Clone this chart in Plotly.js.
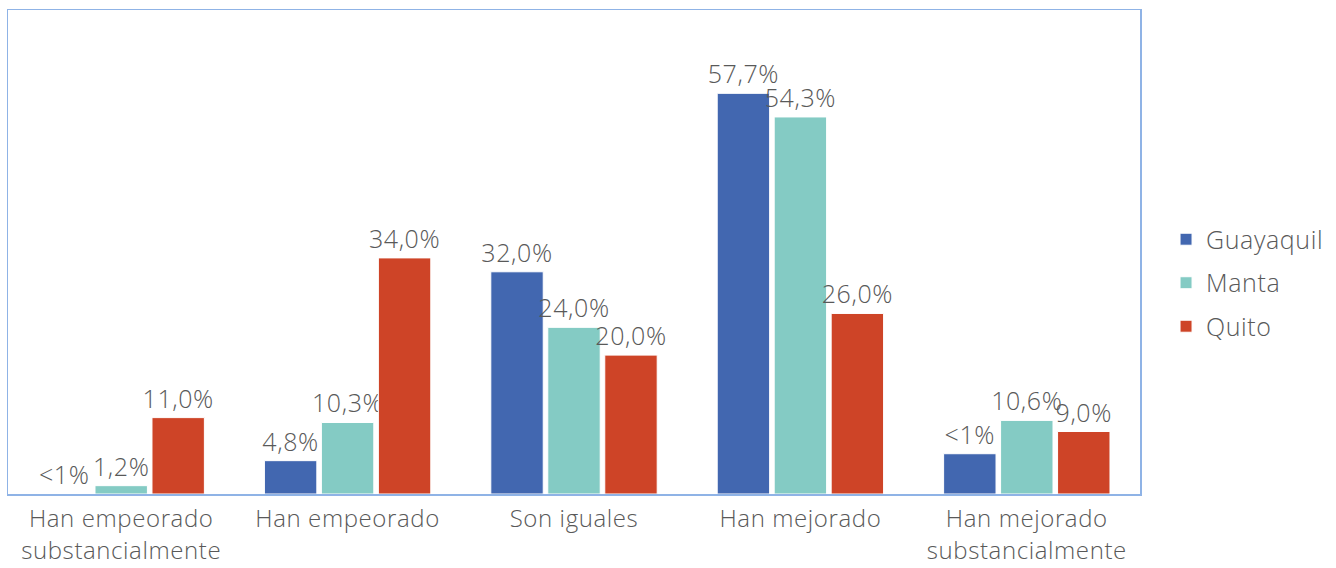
<!DOCTYPE html>
<html>
<head>
<meta charset="utf-8">
<script src="https://cdn.plot.ly/plotly-3.0.1.min.js"></script>
<style>html,body{margin:0;padding:0;background:#fff;}#chart{width:1336px;height:568px;}
#chart svg text{letter-spacing:0.6px;}</style>
</head>
<body>
<div id="chart"></div>
<script>
const categories = ["Han empeorado<br>substancialmente", "Han empeorado", "Son iguales", "Han mejorado", "Han mejorado<br>substancialmente"];
const guayaquil = [0, 4.8, 32.0, 57.7, 5.8];
const manta = [1.2, 10.3, 24.0, 54.3, 10.6];
const quito = [11.0, 34.0, 20.0, 26.0, 9.0];
const guayaquilLabels = ["<1%", "4,8%", "32,0%", "57,7%", "<1%"];
const mantaLabels = ["1,2%", "10,3%", "24,0%", "54,3%", "10,6%"];
const quitoLabels = ["11,0%", "34,0%", "20,0%", "26,0%", "9,0%"];

const font = "'Open Sans', 'DejaVu Sans', sans-serif";
const grey = "#595959";
const fs = 25;

function mk(name, y, text, color) {
  return {
    type: "bar", name: name, legendgroup: name, x: categories, y: y, text: text,
    textposition: "outside", cliponaxis: false, constraintext: "none",
    textfont: {family: font, size: fs, color: grey, weight: 300},
    marker: {color: color, line: {color: "#ffffff", width: 1}},
    hoverinfo: "skip"
  };
}

const data = [
  mk("Guayaquil", guayaquil, guayaquilLabels, "#4267B0"),
  mk("Manta", manta, mantaLabels, "#84CBC4"),
  mk("Quito", quito, quitoLabels, "#CE4427")
];

const layout = {
  width: 1336, height: 568,
  margin: {l: 8, r: 196, t: 10, b: 74},
  paper_bgcolor: "#fff", plot_bgcolor: "#fff",
  barmode: "group", bargap: 0.245, bargroupgap: 0.08,
  font: {family: font, color: grey, size: fs, weight: 300},
  showlegend: true,
  legend: {x: 1.023, y: 0.436, xanchor: "left", yanchor: "middle",
           font: {family: font, size: fs, color: grey, weight: 300}, tracegroupgap: 8,
           itemwidth: 30, traceorder: "grouped"},
  xaxis: {showline: true, mirror: true, linecolor: "#8FB3E6", linewidth: 1.5,
          ticks: "", ticklabelstandoff: 3,
          tickfont: {family: font, size: 24, color: grey, weight: 300}, fixedrange: true},
  yaxis: {range: [0, 69.7], showline: true, mirror: true, linecolor: "#8FB3E6", linewidth: 1.5,
          showgrid: false, zeroline: false, showticklabels: false, ticks: "", fixedrange: true}
};

Plotly.newPlot("chart", data, layout, {staticPlot: true});
</script>
</body>
</html>
